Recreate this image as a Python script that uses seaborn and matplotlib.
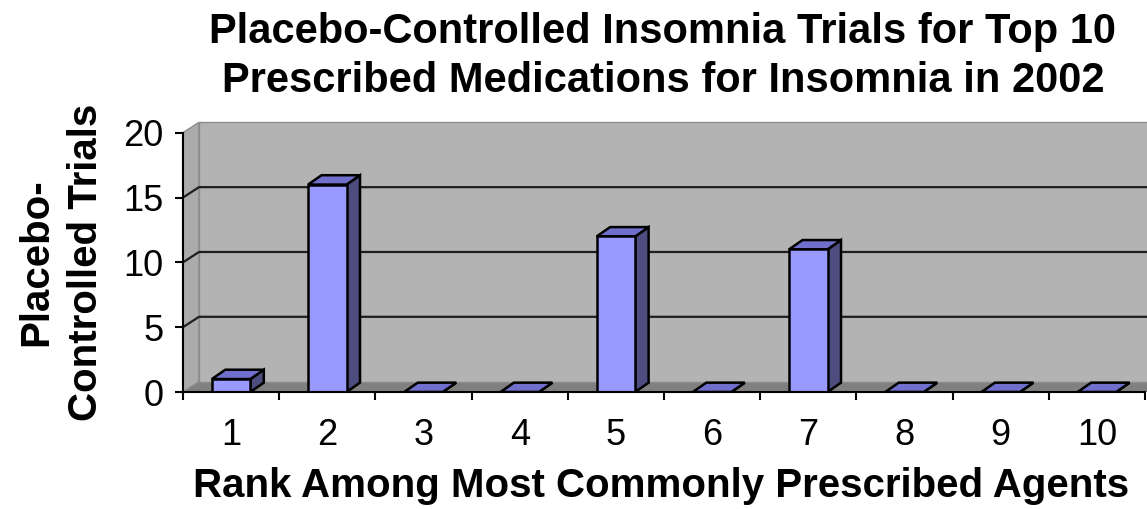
import numpy as np
import pandas as pd
import matplotlib
matplotlib.use("Agg")
import matplotlib.pyplot as plt
from matplotlib.patches import Polygon
import seaborn as sns

# data
ranks = [1, 2, 3, 4, 5, 6, 7, 8, 9, 10]
trials = [1, 16, 0, 0, 12, 0, 11, 0, 0, 0]
y_ticks = [0, 5, 10, 15, 20]

title = "Placebo-Controlled Insomnia Trials for Top 10\nPrescribed Medications for Insomnia in 2002"
x_label = "Rank Among Most Commonly Prescribed Agents"
y_label = "Placebo-\nControlled Trials"

sns.set_style("white")
plt.rcParams["font.family"] = ["Liberation Sans", "DejaVu Sans"]
plt.rcParams["text.color"] = "black"
plt.rcParams["axes.labelcolor"] = "black"
plt.rcParams["xtick.color"] = "black"
plt.rcParams["ytick.color"] = "black"

df = pd.DataFrame({"rank": ranks, "trials": trials})

fig = plt.figure(figsize=(11.47, 5.09), dpi=100)
ax = fig.add_axes([183 / 1147, 117 / 509, 962 / 1147, 259.3 / 509])

# 3d look: depth of the walls and of the bars, in data units
wall_dx, wall_dy = 0.166, 0.8
bar_dx, bar_dy = 0.14, 0.72
x0, x1 = -0.5, 9.5
ymax = 20

# floor, side wall, back wall
ax.add_patch(Polygon([(x0, 0), (x1 + 1, 0), (x1 + 1 + wall_dx, wall_dy), (x0 + wall_dx, wall_dy)],
                     closed=True, facecolor="#808080", edgecolor="none", zorder=0, clip_on=False))
ax.add_patch(Polygon([(x0, 0), (x0 + wall_dx, wall_dy), (x0 + wall_dx, ymax + wall_dy), (x0, ymax)],
                     closed=True, facecolor="#ababab", edgecolor="#8c8c8c", lw=1, zorder=0, clip_on=False))
ax.add_patch(Polygon([(x0 + wall_dx, wall_dy), (x1 + 1, wall_dy), (x1 + 1, ymax + wall_dy),
                      (x0 + wall_dx, ymax + wall_dy)],
                     closed=True, facecolor="#b3b3b3", edgecolor="#8c8c8c", lw=1, zorder=0, clip_on=False))

# gridlines on the back wall and the side wall
for t in y_ticks[1:-1]:
    ax.plot([x0, x0 + wall_dx, x1 + 1], [t, t + wall_dy, t + wall_dy],
            color="#1e1e1e", lw=1.6, zorder=1, clip_on=False, solid_capstyle="butt")

sns.barplot(data=df, x="rank", y="trials", color="#9999ff", width=0.4,
            edgecolor="black", linewidth=1.8, saturation=1, ax=ax, zorder=3)

for p in list(ax.patches):
    if not hasattr(p, "get_width") or p.get_width() > 0.5:
        continue
    x, w, h = p.get_x(), p.get_width(), p.get_height()
    top = [(x, h), (x + w, h), (x + w + bar_dx, h + bar_dy), (x + bar_dx, h + bar_dy)]
    side = [(x + w, 0), (x + w + bar_dx, bar_dy), (x + w + bar_dx, h + bar_dy), (x + w, h)]
    ax.add_patch(Polygon(side, closed=True, facecolor="#4d4d80", edgecolor="black",
                         lw=1.8, zorder=2.9, joinstyle="miter"))
    ax.add_patch(Polygon(top, closed=True, facecolor="#7070cc", edgecolor="black",
                         lw=1.8, zorder=2.9, joinstyle="miter"))

ax.set_xlim(x0, x1)
ax.set_ylim(0, ymax)
ax.patch.set_visible(False)

for s in ["top", "right"]:
    ax.spines[s].set_visible(False)
for s in ["left", "bottom"]:
    ax.spines[s].set_color("black")
    ax.spines[s].set_linewidth(1.5)
    ax.spines[s].set_zorder(4)

ax.set_yticks(y_ticks)
ax.set_xticks(range(len(ranks)))
ax.set_xticklabels([str(r) for r in ranks])
ax.set_xticks(np.arange(x0, x1 + 0.01, 1.0), minor=True)
ax.tick_params(axis="x", which="both", bottom=True)
ax.tick_params(axis="y", which="both", left=True)
ax.tick_params(axis="x", which="major", length=0, pad=19, labelsize=26, labelcolor="black")
ax.tick_params(axis="x", which="minor", length=6, width=1.5, color="black", direction="out")
ax.tick_params(axis="y", which="major", length=6, width=1.5, color="black", direction="out",
               pad=8, labelsize=26, labelcolor="black")

ax.set_xlabel("")
ax.set_ylabel(y_label, fontsize=29, fontweight="bold", linespacing=1.4, color="black")
ax.yaxis.set_label_coords(-0.081, 0.5)

fig.text(0.578, 1 - 12 / 509, title, ha="center", va="top", fontsize=30,
         fontweight="bold", linespacing=1.3)
fig.text(0.576, 1 - 497 / 509, x_label, ha="center", va="baseline", fontsize=29,
         fontweight="bold")

fig.savefig("out.png", dpi=100, facecolor="white")
